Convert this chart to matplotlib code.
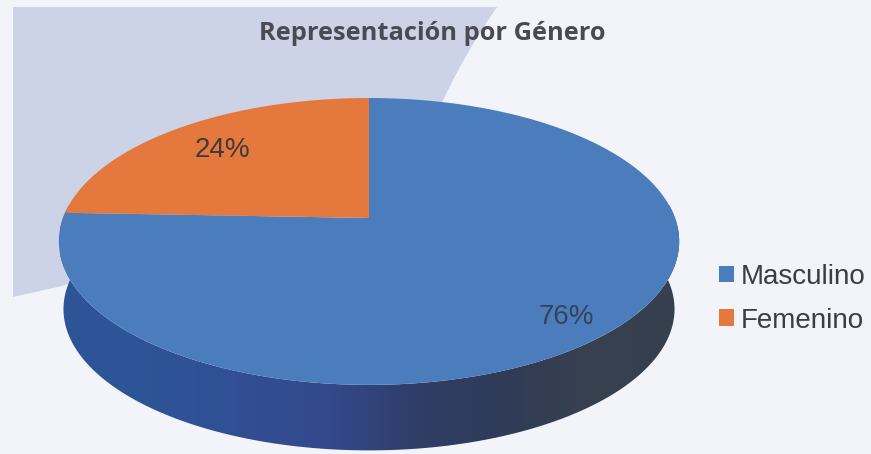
import matplotlib
matplotlib.use('Agg')
import matplotlib.pyplot as plt
from matplotlib.colors import LinearSegmentedColormap
from matplotlib.patches import Patch, Polygon
import numpy as np

# Data
categories = ['Masculino', 'Femenino']
shares = [75.6, 24.4]
labels = ['76%', '24%']
colors = ['#4b7dbc', '#e5793d']
title = 'Representación por Género'

# pie geometry, in image pixels
cx, cy = 369, 218
rx = 306
ry_k = 0.1635
ry_a = 139.6
depth = 68


# fake perspective: unit circle -> tilted disc, clockwise from 12 o'clock
def project(theta):
    X, Y = np.sin(theta), np.cos(theta)
    w = 1 + ry_k * Y
    return cx + rx * X / w, cy - ry_a * Y / w


def wedge(a0, a1):
    t = np.linspace(a0, a1, 200)
    x, y = project(t)
    return np.column_stack([np.r_[cx, x], np.r_[cy, y]])


fig = plt.figure(figsize=(8.71, 4.54), dpi=100, facecolor='#f3f4f9')
ax = fig.add_axes([0, 0, 1, 1])

# lavender shape behind the pie
t = np.linspace(0, 1, 30)
curve_x = 497 - 57 * t - 12 * t * (1 - t)
curve_y = 7 + 100 * t
back = np.vstack([np.column_stack([np.r_[13, curve_x], np.r_[7, curve_y]]),
                  [300, 200], [62, 286], [13, 297]])
ax.add_patch(Polygon(back, closed=True, fc='#cdd3e6', ec='none', zorder=1))

# side of the pie, one polygon with a left to right gradient clipped to it
side_cmap = LinearSegmentedColormap.from_list(
    'side', ['#2c5596', '#2e5496', '#314f94', '#33498c', '#2f3e68', '#2f3b58', '#37414f', '#353f4d'])
x, y = project(np.linspace(np.pi * 0.47, np.pi * 1.53, 300))
xb = cx + (x - cx) * 0.985
yb = cy + (y - cy) * 0.985 + depth
side = Polygon(np.column_stack([np.r_[x, xb[::-1]], np.r_[y, yb[::-1]]]), closed=True,
               fc='none', ec='none', zorder=2)
ax.add_patch(side)
img = ax.imshow(np.linspace(0, 1, 300)[None, :], extent=[60, 680, 460, 200], cmap=side_cmap,
                aspect='auto', zorder=2)
img.set_clip_path(side)

# top of the pie
start = 0
for share, color in zip(shares, colors):
    end = start + share / sum(shares) * 2 * np.pi
    ax.add_patch(Polygon(wedge(start, end), closed=True, fc=color, ec='none', zorder=3))
    start = end

ax.text(566, 317, labels[0], fontsize=20, family='Liberation Sans', color='#35425a',
        ha='center', va='center', zorder=4)
ax.text(222, 150, labels[1], fontsize=20, family='Liberation Sans', color='#3f3a3c',
        ha='center', va='center', zorder=4)
ax.text(432, 34, title, fontsize=18.3, family='Open Sans', fontweight='bold',
        color='#4a4b52', ha='center', va='center', zorder=4)

ax.set_xlim(0, 871)
ax.set_ylim(454, 0)
ax.axis('off')

handles = [Patch(fc=c, ec='none') for c in colors]
ax.legend(handles, categories, loc='upper left', bbox_to_anchor=(719 / 871, 1 - 264 / 454),
          frameon=False, handlelength=0.54, handleheight=0.54, handletextpad=0.25,
          labelspacing=0.63, borderpad=0, borderaxespad=0,
          prop={'family': 'Liberation Sans', 'size': 20}, labelcolor='#3c3c44')

fig.savefig('out.png', dpi=100, facecolor=fig.get_facecolor())
